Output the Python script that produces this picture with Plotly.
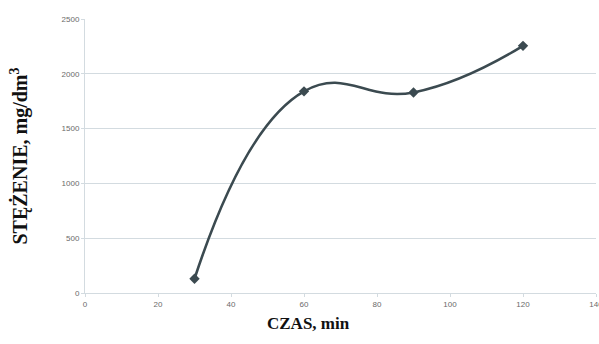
import plotly.graph_objects as go

# Concentration over time
czas = [30, 60, 90, 120]
stezenie = [130, 1840, 1830, 2255]

x_ticks = [0, 20, 40, 60, 80, 100, 120, 140]
y_ticks = [0, 500, 1000, 1500, 2000, 2500]

line_color = "#3b4a50"
grid_color = "#d3dbe0"
tick_font = dict(family="Liberation Sans, Arial", size=8, color="#6a6a6a")
serif = "Liberation Serif, Times New Roman"

fig = go.Figure()
fig.add_trace(go.Scatter(
    x=czas, y=stezenie,
    mode="lines+markers",
    line=dict(color=line_color, width=2.6, shape="spline", smoothing=1.3),
    marker=dict(symbol="diamond", size=8, color=line_color),
    showlegend=False,
))

fig.update_layout(
    width=599, height=344,
    margin=dict(l=85, r=3, t=19, b=51),
    paper_bgcolor="white",
    plot_bgcolor="white",
    xaxis=dict(
        range=[0, 140], tickvals=x_ticks, ticktext=[str(v) for v in x_ticks],
        showgrid=False, zeroline=False, automargin=False,
        showline=True, linecolor=grid_color, linewidth=1,
        ticks="outside", ticklen=3, tickcolor=grid_color,
        tickfont=tick_font, ticklabeloverflow="allow",
    ),
    yaxis=dict(
        range=[0, 2500], tickvals=y_ticks, ticktext=[str(v) for v in y_ticks],
        showgrid=True, gridcolor=grid_color, gridwidth=1.2,
        zeroline=False, automargin=False,
        showline=True, linecolor=grid_color, linewidth=1,
        ticks="outside", ticklen=3, tickcolor=grid_color,
        tickfont=tick_font,
        title=dict(text="<b>STĘŻENIE, mg/dm<sup>3</sup></b>",
                   font=dict(family=serif, size=20, color="#111111"), standoff=28),
    ),
    annotations=[dict(
        text="<b>CZAS, min</b>", font=dict(family=serif, size=17, color="#111111"),
        xref="paper", yref="paper", x=0.438, y=-0.11,
        xanchor="center", yanchor="middle", showarrow=False,
    )],
)

fig.write_html("out.html")
